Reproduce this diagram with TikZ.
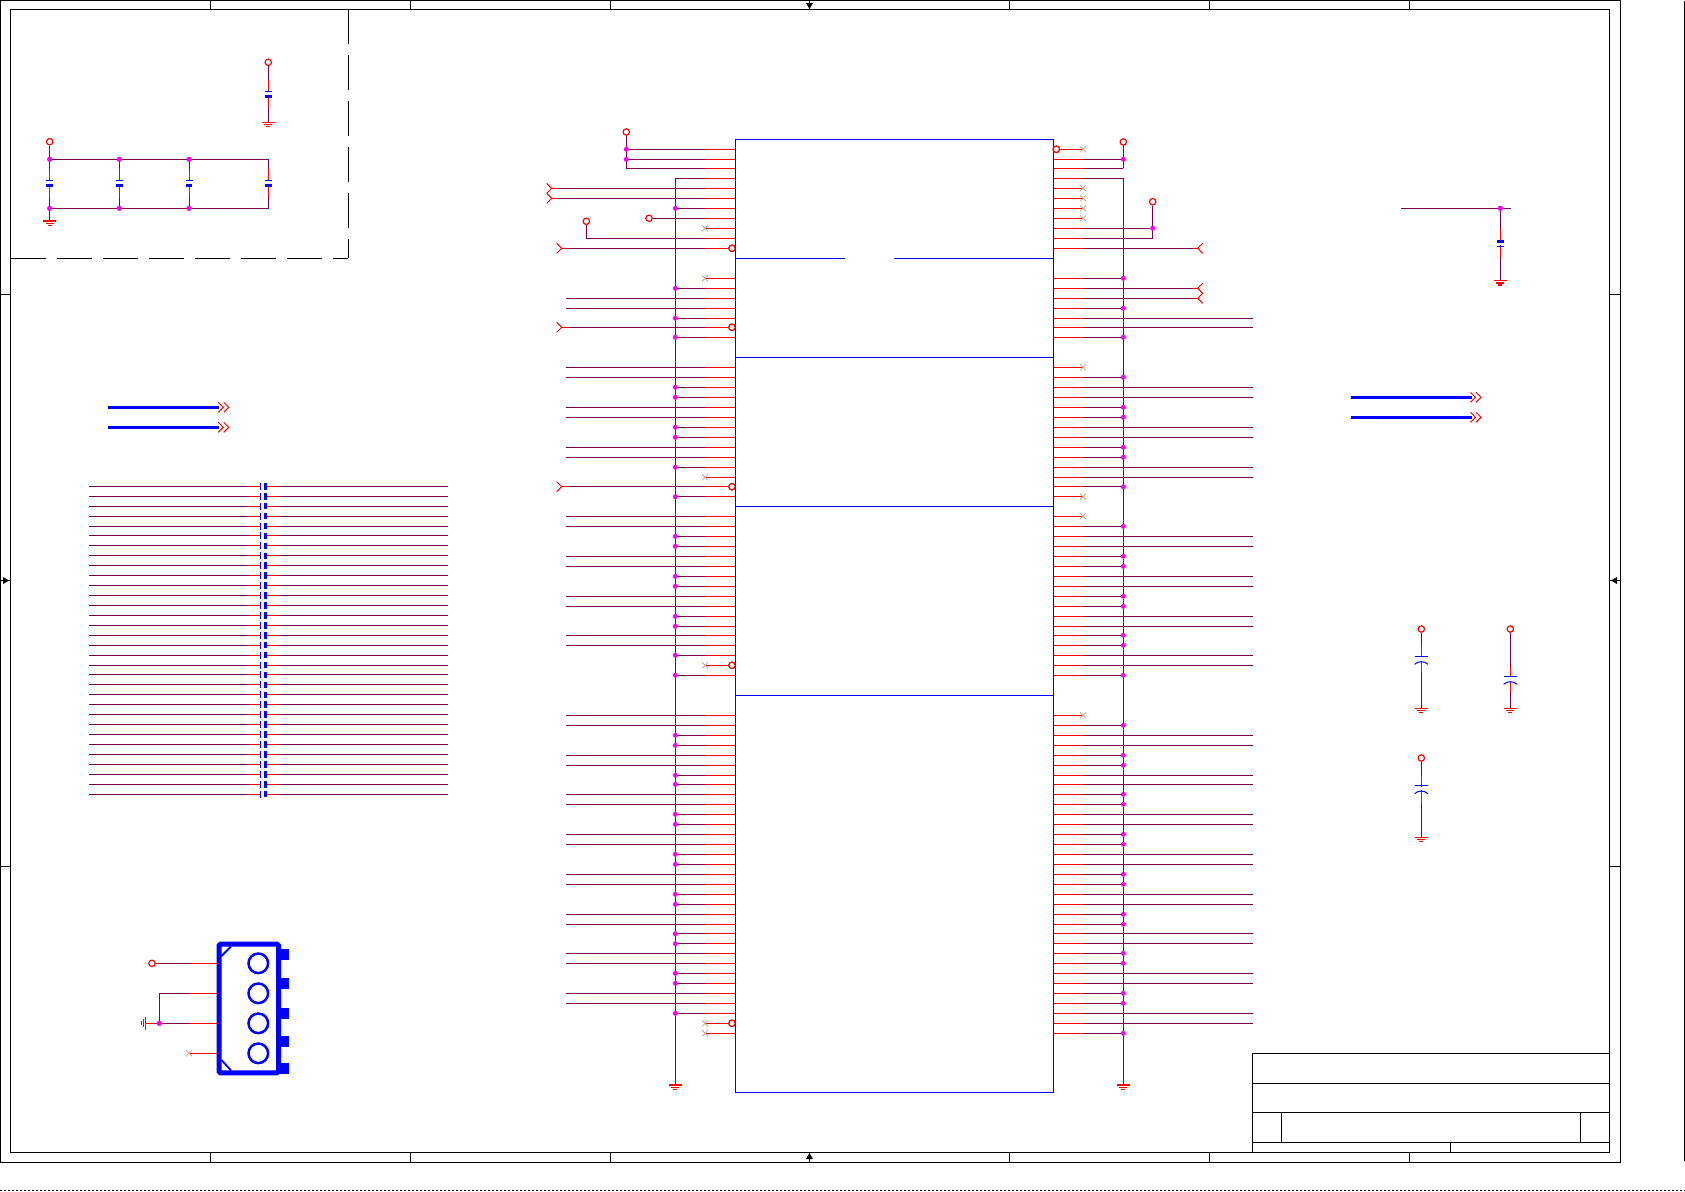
\documentclass[tikz,border=0pt]{standalone}
\usetikzlibrary{calc}
\definecolor{wirec}{HTML}{7A0048}
\definecolor{ncc}{HTML}{C8A888}
\definecolor{dotc}{HTML}{FF00FF}
\tikzset{
  wire/.style={draw=wirec,line width=1pt},
  stub/.style={draw=red,line width=1pt},
  sym/.style={draw=blue,line width=1pt},
  frameline/.style={draw=black,line width=1pt},
  junction/.style={circle,fill=dotc,inner sep=0pt,minimum size=5pt},
  pwr/.style={circle,draw=red,fill=white,line width=1.2pt,inner sep=0pt,minimum size=6.4pt},
  bus/.style={draw=blue,line width=3pt},
  longdash/.style={draw=black,line width=1pt,dash pattern=on 34.5pt off 11.5pt}
}
\newcommand{\gndsym}[2]{%
  \draw[draw=red,line width=1.25pt] (#1-6.5,#2)--(#1+6.5,#2) (#1-4,#2+2.2)--(#1+4,#2+2.2) (#1-2,#2+4.4)--(#1+2,#2+4.4);}
\newcommand{\ncsym}[2]{%
  \draw[draw=ncc,line width=0.8pt] (#1-3,#2-3)--(#1+3,#2+3) (#1-3,#2+3)--(#1+3,#2-3);}
\newcommand{\portleft}[2]{%
  \draw[stub] (#1,#2-5)--(#1+5,#2)--(#1,#2+5) (#1+5,#2)--(#1+10,#2);}
\newcommand{\portright}[2]{%
  \draw[stub] (#1,#2-5)--(#1-5,#2)--(#1,#2+5) (#1-5,#2)--(#1-10,#2);}
\newcommand{\chevrons}[2]{%
  \draw[stub] (#1,#2-5)--(#1+5,#2)--(#1,#2+5) (#1+5.5,#2-5)--(#1+10.5,#2)--(#1+5.5,#2+5);}
\newcommand{\polcap}[3]{% x, y of thin plate, y of thick plate
  \draw[sym] (#1-3.5,#2)--(#1+3.5,#2);
  \fill[blue] (#1-3.3,#3-1.3) rectangle (#1+3.3,#3+1.3);}
\newcommand{\arccap}[2]{% x, y of flat plate
  \draw[sym] (#1-6.7,#2)--(#1+6.7,#2);
  \draw[sym] (#1-6.7,#2+8) .. controls (#1-3,#2+4.5) and (#1+3,#2+4.5) .. (#1+6.7,#2+8);}
\begin{document}
\begin{tikzpicture}[x=1pt,y=-1pt]
\useasboundingbox (0,0) rectangle (1685,1191);
% ---------- sheet frame
\draw[frameline] (0.5,0.5) rectangle (1620,1162.3);
\draw[frameline] (10.3,9.3) rectangle (1609.3,1152.3);
\foreach \x in {210,410.5,610.4,1009,1209,1409.3}{
  \draw[frameline] (\x,0.5)--(\x,10) (\x,1152.3)--(\x,1162.3);}
\foreach \y in {294.4,866.1}{
  \draw[frameline] (0.5,\y)--(10.3,\y) (1609.3,\y)--(1620,\y);}
\draw[frameline] (809.5,0.5)--(809.5,9.3) (809.5,1152.3)--(809.5,1162.3);
\draw[frameline] (0.5,580.3)--(10.3,580.3) (1609.3,580.3)--(1620,580.3);
\fill[black] (806,3)--(813,3)--(809.5,9)--cycle;
\fill[black] (806,1159)--(813,1159)--(809.5,1153)--cycle;
\fill[black] (3,577)--(3,584)--(9,580.5)--cycle;
\fill[black] (1617,577)--(1617,584)--(1611,580.5)--cycle;
\draw[frameline] (1684.6,0.5)--(1684.6,1161);
\draw[draw=black,line width=0.8pt,dash pattern=on 2pt off 2pt] (0,1190.3)--(1685,1190.3);
% title block
\draw[frameline] (1252.3,1053.3) rectangle (1609.3,1152.3);
\draw[frameline] (1252.3,1083.3)--(1609.3,1083.3) (1252.3,1112.3)--(1609.3,1112.3) (1252.3,1142.3)--(1609.3,1142.3);
\draw[frameline] (1281.3,1112.3)--(1281.3,1142.3) (1580.3,1112.3)--(1580.3,1142.3) (1450.3,1142.3)--(1450.3,1152.3);
% dashed box
\draw[longdash] (348.3,9.3)--(348.3,258);
\draw[longdash] (11,258)--(348.3,258);
% ---------- top-left decoupling
\node[pwr] (tlp) at (268.3,62.3) {};
\coordinate (tlg) at (268.3,122.3);
\draw[wire] (tlp)--(tlg);
\draw[stub] (268.3,80)--(268.3,108);
\polcap{268.3}{91.3}{96.3}
\draw[draw=white,line width=1.2pt] (268.3,92.2)--(268.3,94.6);
\gndsym{268.3}{122.3}
\node[pwr] (blp) at (49.7,141.7) {};
\node[junction] (t1) at (49.7,159.3) {};
\node[junction] (t2) at (119.3,159.3) {};
\node[junction] (t3) at (189,159.3) {};
\coordinate (t4) at (268.3,159.3);
\node[junction] (b1) at (49.7,208.3) {};
\node[junction] (b2) at (119.3,208.3) {};
\node[junction] (b3) at (189,208.3) {};
\coordinate (b4) at (268.3,208.3);
\coordinate (blg) at (49.7,221);
\draw[wire] (blp)--(t1.center)--(t2.center)--(t3.center)--(t4)--(b4)--(b3.center)--(b2.center)--(b1.center)--(blg);
\draw[wire] (t1.center)--(b1.center) (t2.center)--(b2.center) (t3.center)--(b3.center);
\foreach \x in {49.7,119.3,189,268.3}{
  \draw[stub] (\x,169)--(\x,198);
  \polcap{\x}{180.3}{185.3}
  \draw[draw=white,line width=1.2pt] (\x,181.2)--(\x,183.6);}
\gndsym{49.7}{221}
\node[junction] at (t1) {};\node[junction] at (t2) {};\node[junction] at (t3) {};
\node[junction] at (b1) {};\node[junction] at (b2) {};\node[junction] at (b3) {};
% ---------- left buses
\foreach \y in {407.3,427.3}{
  \coordinate (ba) at (108.3,\y); \coordinate (bb) at (219.3,\y);
  \draw[bus] (ba)--(bb);
  \chevrons{218.3}{\y}}
% ---------- capacitor array
\foreach \i in {0,...,31}{
  \pgfmathsetmacro{\yy}{486.3+9.93*\i}
  \coordinate (al) at (89,\yy); \coordinate (ar) at (447.7,\yy);
  \draw[wire] (al)--(ar);
  \draw[stub] (249,\yy)--(277.7,\yy);
  \fill[white] (261,\yy-1) rectangle (264,\yy+1);
  \draw[sym] (260.3,\yy-3.5)--(260.3,\yy+3.5);
  \fill[blue] (264,\yy-3.3) rectangle (266.6,\yy+3.3);}
% ---------- connector
\draw[draw=blue,line width=5pt,rounded corners=1.5pt] (219,944.2) rectangle (278.5,1072.8);
\draw[draw=blue,line width=1.8pt] (221.5,956)--(231,946.5);
\draw[draw=blue,line width=1.8pt] (221.5,1060)--(231,1070.5);
\foreach \y/\t in {963.3/949,993.3/978,1023.3/1008,1053.3/1036}{
  \draw[draw=blue,line width=2.5pt] (258.3,\y) circle (9.8);
  \fill[blue] (280,\t) rectangle (289,\t+11);}
\fill[blue] (280,1063) rectangle (289,1074);
\node[pwr] (c1p) at (152,963.3) {};
\coordinate (c1) at (216.7,963.3);
\draw[wire] (c1p)--(c1); \draw[stub] (190,963.3)--(216.7,963.3);
\draw[stub] (c1p.east)--(158,963.3);
\coordinate (c2) at (216.7,993.3);
\node[junction] (c3j) at (159.3,1023.3) {};
\coordinate (c3) at (216.7,1023.3);
\coordinate (c3g) at (145.7,1023.3);
\draw[wire] (c2)--(159.3,993.3)--(c3j.center);
\draw[wire] (c3)--(c3g);
\draw[stub] (190,993.3)--(216.7,993.3) (190,1023.3)--(216.7,1023.3) (153,1023.3)--(145.7,1023.3);
\draw[stub] (145.7,1016.8)--(145.7,1029.8) (143.7,1019.3)--(143.7,1027.3) (141.9,1021.3)--(141.9,1025.3);
\node[junction] at (c3j) {};
\coordinate (c4) at (216.7,1053.3);
\draw[stub] (189,1053.3)--(c4);
\ncsym{189}{1053.3}
% ---------- IC body
\coordinate (icl) at (735.3,139.3);
\coordinate (icr) at (1053.3,1092.5);
\coordinate (lrail) at (675.3,178.3);
\coordinate (lrailend) at (675.3,1085);
\coordinate (rrail) at (1123.3,178.3);
\coordinate (rrailend) at (1123.3,1085);
\draw[wire] (lrail)--(lrailend);
\draw[wire] (rrail)--(rrailend);
% --- left pins
\foreach \y in {178.3,208.3,288.3,318.3,337.3,387.3,397.3,427.3,437.3,467.3,496.7,536.3,546.3,576.3,586.3,616.3,626.3,655.3,675.3,735.3,745.3,775.3,784.3,814.3,824.3,854.3,864.3,894.3,904.3,933.7,943.7,973.3,983.3,1013.3}{
  \coordinate (p) at (735.3,\y);
  \draw[wire] (p)--(lrail |- p);
  \draw[stub] (705,\y)--(p);}
\foreach \y in {298.3,308.3,367.3,377.3,407.3,417.3,447.3,457.3,516.3,526.3,556.3,566.3,596.3,606.3,635.3,645.3,715.3,725.3,755.3,765.3,794.3,804.3,834.3,844.3,874.3,884.3,914.3,924.3,953.3,963.3,993.3,1003.3}{
  \coordinate (p) at (735.3,\y); \coordinate (q) at (566,\y);
  \draw[wire] (p)--(q);
  \draw[stub] (705,\y)--(p);}
\foreach \y in {228.3,278.3,477.3,1033.3}{
  \coordinate (p) at (735.3,\y);
  \draw[stub] (p)--(705,\y);
  \ncsym{705}{\y}}
\foreach \y in {665.3,1023.3}{
  \node[pwr] (pc) at (732,\y) {};
  \draw[stub] (pc)--(705,\y);
  \ncsym{705}{\y}}
\foreach \y in {248.3,327.3,486.7}{
  \node[pwr] (pc) at (732,\y) {};
  \coordinate (q) at (566,\y);
  \draw[wire] (pc)--(q);
  \draw[stub] (pc)--(705,\y);
  \portleft{556.7}{\y}}
% top-left specials
\node[pwr] (vl) at (626.3,132) {};
\coordinate (vlb) at (626.3,168.3);
\draw[wire] (vl)--(vlb);
\foreach \y in {149.3,159.3,168.3}{
  \coordinate (p) at (735.3,\y);
  \draw[wire] (p)--(626.3,\y);
  \draw[stub] (705,\y)--(p);}
\node[junction] at (626.3,149.3) {};
\node[junction] at (626.3,159.3) {};
\foreach \y in {188.3,198.3}{
  \coordinate (p) at (735.3,\y); \coordinate (q) at (555,\y);
  \draw[wire] (p)--(q);
  \draw[stub] (705,\y)--(p);
  \portleft{546.7}{\y}}
\node[pwr] (vm) at (649,218.3) {};
\coordinate (vmp) at (735.3,218.3);
\draw[wire] (vm)--(vmp); \draw[stub] (705,218.3)--(vmp);
\node[pwr] (vn) at (586.3,221.3) {};
\coordinate (vnp) at (735.3,238.3);
\draw[wire] (vn)--(586.3,238.3)--(vnp); \draw[stub] (705,238.3)--(vnp);
\foreach \y [count=\i] in {208.3,288.3,318.3,337.3,387.3,397.3,427.3,437.3,467.3,496.7,536.3,546.3,576.3,586.3,616.3,626.3,655.3,675.3,735.3,745.3,775.3,784.3,814.3,824.3,854.3,864.3,894.3,904.3,933.7,943.7,973.3,983.3,1013.3}{
  \node[junction] (lj\i) at (675.3,\y) {};}
\gndsym{675.3}{1085}
% --- right pins
\foreach \y in {178.3,278.3,308.3,337.3,377.3,407.3,417.3,447.3,457.3,486.7,526.3,556.3,566.3,596.3,606.3,635.3,645.3,675.3,725.3,755.3,765.3,794.3,804.3,834.3,844.3,874.3,884.3,914.3,924.3,953.3,963.3,993.3,1003.3,1033.3}{
  \coordinate (p) at (1053.3,\y);
  \draw[wire] (p)--(rrail |- p);
  \draw[stub] (p)--(1082.7,\y);}
\foreach \y in {318.3,327.3,387.3,397.3,427.3,437.3,467.3,477.3,536.3,546.3,576.3,586.3,616.3,626.3,655.3,665.3,735.3,745.3,775.3,784.3,814.3,824.3,854.3,864.3,894.3,904.3,933.7,943.7,973.3,983.3,1013.3,1023.3}{
  \coordinate (p) at (1053.3,\y); \coordinate (q) at (1252.7,\y);
  \draw[wire] (p)--(q);
  \draw[stub] (p)--(1082.7,\y);}
\foreach \y in {188.3,198.3,208.3,218.3,367.3,496.7,516.3,715.3}{
  \coordinate (p) at (1053.3,\y);
  \draw[stub] (p)--(1083,\y);
  \ncsym{1083}{\y}}
\node[pwr] (rc) at (1056.3,149.3) {};
\coordinate (rcx) at (1083,149.3);
\draw[stub] (rc)--(rcx);
\ncsym{1083}{149.3}
\node[pwr] (vr) at (1123.3,142) {};
\coordinate (vrb) at (1123.3,168.3);
\draw[wire] (vr)--(vrb);
\foreach \y in {159.3,168.3}{
  \coordinate (p) at (1053.3,\y);
  \draw[wire] (p)--(1123.3,\y);
  \draw[stub] (p)--(1082.7,\y);}
\node[junction] at (1123.3,159.3) {};
\node[pwr] (vs) at (1152.7,201.7) {};
\coordinate (vsb) at (1152.7,238.3);
\draw[wire] (vs)--(vsb);
\foreach \y in {228.3,238.3}{
  \coordinate (p) at (1053.3,\y);
  \draw[wire] (p)--(1152.7,\y);
  \draw[stub] (p)--(1082.7,\y);}
\node[junction] at (1152.7,228.3) {};
\foreach \y in {248.3,288.3,298.3}{
  \coordinate (p) at (1053.3,\y); \coordinate (q) at (1193,\y);
  \draw[wire] (p)--(q);
  \draw[stub] (p)--(1082.7,\y);
  \portright{1202.7}{\y}}
\foreach \y [count=\i] in {278.3,308.3,337.3,377.3,407.3,417.3,447.3,457.3,486.7,526.3,556.3,566.3,596.3,606.3,635.3,645.3,675.3,725.3,755.3,765.3,794.3,804.3,834.3,844.3,874.3,884.3,914.3,924.3,953.3,963.3,993.3,1003.3,1033.3}{
  \node[junction] (rj\i) at (1123.3,\y) {};}
\gndsym{1123.3}{1085}
% IC outline drawn above the pin ends
\draw[sym] (icl) rectangle (icr);
\draw[sym] (735.3,258)--(844.6,258) (894,258)--(1053.3,258);
\draw[sym] (735.3,357)--(1053.3,357) (735.3,506.2)--(1053.3,506.2) (735.3,695.5)--(1053.3,695.5);
\foreach \y in {248.3,327.3,486.7,665.3,1023.3}{\node[pwr] at (732,\y) {};}
\node[pwr] at (1056.3,149.3) {};
% ---------- upper right cap
\coordinate (ura) at (1400.7,208.3);
\coordinate (urb) at (1510.7,208.3);
\draw[wire] (ura)--(urb);
\node[junction] (urj) at (1500.3,208.3) {};
\coordinate (urg) at (1500.3,280.7);
\draw[wire] (urj.center)--(urg);
\draw[stub] (1500.3,229)--(1500.3,258);
\polcap{1500.3}{246.3}{241.3}
\draw[draw=white,line width=1.2pt] (1500.3,243)--(1500.3,245.4);
\gndsym{1500.3}{280.7}
\node[junction] at (urj) {};
% right buses
\foreach \y in {397.3,417.3}{
  \coordinate (ba) at (1350.8,\y); \coordinate (bb) at (1471.7,\y);
  \draw[bus] (ba)--(bb);
  \chevrons{1470.5}{\y}}
% ---------- lower right caps
\foreach \x/\yp/\yc/\yg in {1421.3/629/656.3/708.3,1510.3/629/676.3/708.3,1421.3/758/785.7/837.3}{
  \node[pwr] (cp) at (\x,\yp) {};
  \coordinate (cg) at (\x,\yg);
  \draw[wire] (cp)--(cg);
  \draw[stub] (\x,\yc-10)--(\x,\yc+17);
  \draw[draw=white,line width=1.3pt] (\x,\yc+0.8)--(\x,\yc+4.6);
  \arccap{\x}{\yc}
  \gndsym{\x}{\yg}}
\end{tikzpicture}
\end{document}
